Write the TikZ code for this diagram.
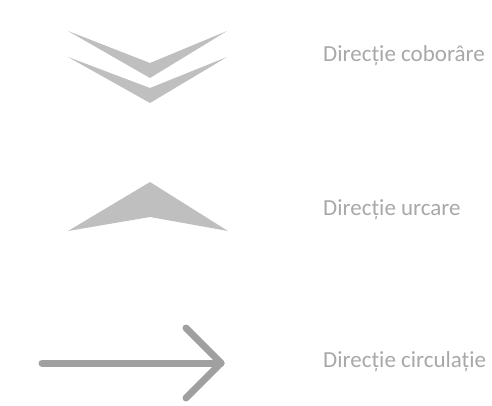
\documentclass[tikz,border=0pt]{standalone}
\usepackage{fontspec}
\setmainfont{Carlito}
\usetikzlibrary{positioning}
\definecolor{chevgray}{HTML}{BFBFBF}
\definecolor{arrowgray}{HTML}{A0A0A0}
\definecolor{textgray}{HTML}{A8A8A8}

\begin{document}
\begin{tikzpicture}[
x=1pt, y=-1pt,
lbl/.style={anchor=base west, inner sep=0pt, text=textgray, font=\fontsize{23}{27}\selectfont},
chev/.style={fill=chevgray, draw=none},
arrow/.style={draw=arrowgray, line width=7pt, line cap=round, line join=round}
]
\useasboundingbox (0,0) rectangle (492,405);

% double chevron (down)
\fill[chev] (68,31) -- (150,63) -- (227,31) -- (150,78) -- cycle;
\fill[chev] (68,57) -- (150,88) -- (227,57) -- (150,103) -- cycle;
% single chevron (up)
\fill[chev] (68,231) -- (150,182) -- (228,231) -- (150,217) -- cycle;
% arrow
\coordinate (s) at (42,363);
\coordinate (t) at (221,363);
\draw[arrow] (s) -- (t);
\draw[arrow] (186,328) -- (t) -- (186,398);

\node[lbl] (down) at (323,61) {Direcție coborâre};
\node[lbl] (up) at (323,215) {Direcție urcare};
\node[lbl] (flow) at (323,367) {Direcție circulație};
\end{tikzpicture}
\end{document}
